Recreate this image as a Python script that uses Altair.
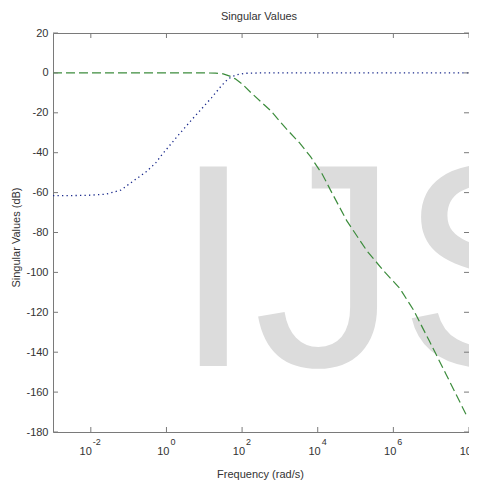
import altair as alt
import pandas as pd

# ---- data ----
green_freq = [1e-3, 1e-1, 10.0, 20.0, 31.6, 50.1, 66.1, 100.0, 174.0, 316.0, 575.0,
              1410.0, 3310.0, 6460.0, 13200.0, 21400.0, 58900.0, 2.0e5, 5.5e5,
              1.0e6, 1.45e6, 3.4e6, 8.9e6, 2.45e7, 8.5e7]
green_db = [0.0, 0.0, 0.0, -0.1, -0.5, -1.8, -3.0, -5.5, -10.0, -14.5, -19.0,
            -27.6, -35.1, -42.0, -50.8, -58.5, -74.2, -89.2, -99.2,
            -104.5, -107.8, -118.8, -134.3, -150.9, -171.5]

blue_freq = [1e-3, 3.16e-3, 0.01, 0.025, 0.063, 0.126, 0.29, 0.52, 0.76, 2.0,
             4.6, 8.5, 15.5, 28.2, 42.7, 69.0, 120.0, 316.0, 1e8]
blue_db = [-61.5, -61.5, -61.3, -60.8, -58.7, -54.5, -49.6, -45.1, -41.0, -31.5,
           -23.6, -18.0, -12.5, -6.5, -3.0, -1.0, -0.2, 0.0, 0.0]

y_ticks = [20, 0, -20, -40, -60, -80, -100, -120, -140, -160, -180]
x_tick_freq = [1e-2, 1e0, 1e2, 1e4, 1e6, 1e8]
x_tick_exp = ["-2", "0", "2", "4", "6", "8"]

W, H = 416, 399
FONT = "Liberation Sans"
GRAY = "#7a7a7a"
TXT = "#333333"

xscale = alt.Scale(type="log", domain=[1e-3, 1e8], nice=False)
yscale = alt.Scale(domain=[-180, 20], nice=False, zero=False)

green_df = pd.DataFrame({"f": green_freq, "db": green_db})
blue_df = pd.DataFrame({"f": blue_freq, "db": blue_db})
xt_df = pd.DataFrame({"f": x_tick_freq, "base": ["10"] * len(x_tick_freq), "exp": x_tick_exp})
yt_df = pd.DataFrame({"db": y_ticks})

xaxis = alt.Axis(labels=False, ticks=False, domain=False, grid=False,
                 title="Frequency (rad/s)", titleFont=FONT, titleFontSize=11,
                 titleFontWeight="normal", titleColor=TXT, titleX=207, titleY=45,
                 titleBaseline="alphabetic")
yaxis = alt.Axis(values=y_ticks, ticks=False, tickSize=0, domain=False, grid=False,
                 labelPadding=5, labelFont=FONT, labelFontSize=11, labelColor=TXT,
                 labelFlush=False, labelOverlap=False, labelExpr="datum.value + ''",
                 title="Singular Values (dB)", titleFont=FONT, titleFontSize=11,
                 titleFontWeight="normal", titleColor=TXT, titleX=-37, titleY=204,
                 titleAngle=270, titleAlign="center", titleBaseline="middle")

X = alt.X("f:Q", scale=xscale, axis=xaxis)
Y = alt.Y("db:Q", scale=yscale, axis=yaxis)

watermark = alt.Chart(pd.DataFrame({"t": ["IJS"]})).mark_text(
    font=FONT, fontSize=290, color="#dcdcdc", align="left", baseline="alphabetic"
).encode(x=alt.value(120), y=alt.value(333), text="t:N")

green = alt.Chart(green_df).mark_line(
    color="#3c8c3c", strokeWidth=1.2, strokeDash=[9, 4], clip=True
).encode(x=X, y=Y)

blue = alt.Chart(blue_df).mark_line(
    color="#1a2a8c", strokeWidth=1.3, strokeDash=[1.3, 3.2], clip=True
).encode(x=X, y=Y)

tick_bottom = alt.Chart(xt_df).mark_rule(color=GRAY).encode(
    x=X, y=alt.value(H), y2=alt.value(H - 5))
tick_top = alt.Chart(xt_df).mark_rule(color=GRAY).encode(
    x=X, y=alt.value(0), y2=alt.value(5))
tick_left = alt.Chart(yt_df).mark_rule(color=GRAY).encode(
    y=Y, x=alt.value(0), x2=alt.value(5))
tick_right = alt.Chart(yt_df).mark_rule(color=GRAY).encode(
    y=Y, x=alt.value(W - 5), x2=alt.value(W))

base_neg = alt.Chart(xt_df).transform_filter("datum.exp == '-2'").mark_text(
    font=FONT, fontSize=11, color=TXT, align="right", baseline="alphabetic", dx=1
).encode(x=X, y=alt.value(H + 23), text="base:N")
base_pos = alt.Chart(xt_df).transform_filter("datum.exp != '-2'").mark_text(
    font=FONT, fontSize=11, color=TXT, align="right", baseline="alphabetic", dx=3
).encode(x=X, y=alt.value(H + 23), text="base:N")
exp_neg = alt.Chart(xt_df).transform_filter("datum.exp == '-2'").mark_text(
    font=FONT, fontSize=9, color=TXT, align="left", baseline="alphabetic", dx=2
).encode(x=X, y=alt.value(H + 13), text="exp:N")
exp_pos = alt.Chart(xt_df).transform_filter("datum.exp != '-2'").mark_text(
    font=FONT, fontSize=9, color=TXT, align="left", baseline="alphabetic", dx=4
).encode(x=X, y=alt.value(H + 13), text="exp:N")

chart = alt.layer(
    watermark, green, blue, tick_bottom, tick_top, tick_left, tick_right,
    base_neg, base_pos, exp_neg, exp_pos
).properties(
    width=W, height=H,
    title=alt.TitleParams("Singular Values", font=FONT, fontSize=11, fontWeight="normal",
                          color=TXT, anchor="middle", offset=5, dx=-2),
    autosize=alt.AutoSizeParams(type="none"),
    padding={"left": 45, "top": 25, "right": 0, "bottom": 49},
).configure_view(stroke=GRAY, strokeWidth=1)

chart.save("out.html", embed_options={"renderer": "svg", "actions": False})
